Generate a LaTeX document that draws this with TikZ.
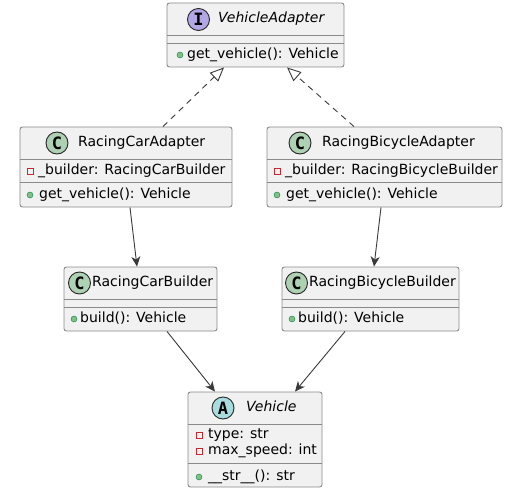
\documentclass[tikz,border=0pt]{standalone}
\usepackage{fontspec}
\setmainfont{DejaVu Sans}
\newfontfamily\spotfont{DejaVu Sans Mono}
\usetikzlibrary{arrows.meta}
\definecolor{boxfill}{HTML}{F1F1F1}
\definecolor{boxline}{HTML}{8A8A8A}
\definecolor{arrline}{HTML}{3A3A3A}
\definecolor{spotC}{HTML}{ADD1B2}
\definecolor{spotI}{HTML}{B4A7E5}
\definecolor{spotA}{HTML}{A9DCDF}
\definecolor{privred}{HTML}{C82930}
\definecolor{pubfill}{HTML}{84BE84}
\definecolor{publine}{HTML}{038048}
\begin{document}
\begin{tikzpicture}[x=1bp,y=-1bp,
    every node/.style={font=\fontsize{14bp}{16bp}\selectfont},
    cls/.style={draw=boxline,fill=boxfill,line width=0.9bp,rounded corners=2.5bp,inner sep=0},
    sep/.style={draw=boxline,line width=0.9bp},
    spot/.style={circle,draw=black!85,line width=0.9bp,minimum size=22bp,inner sep=0,
      font=\spotfont\bfseries\fontsize{17bp}{17bp}\selectfont},
    txt/.style={anchor=west,inner sep=0,text height=10bp,text depth=3bp},
    priv/.style={draw=privred,line width=0.8bp,minimum size=6bp,inner sep=0},
    pub/.style={circle,draw=publine,fill=pubfill,line width=0.4bp,minimum size=6bp,inner sep=0},
    impl/.style={draw=arrline,line width=0.9bp,dash pattern=on 6bp off 5bp,
      -{Triangle[open,length=14bp,width=12bp,fill=white]}},
    assoc/.style={draw=arrline,line width=0.9bp,-{Stealth[length=10bp,width=9bp,inset=3bp]}}]
  \useasboundingbox (0,0) rectangle (524,495);
  % class boxes
  \node[cls,minimum width=177bp,minimum height=64bp] (A0_0) at (255.5,35) {};
  \node[cls,minimum width=212bp,minimum height=80bp] (A1_0) at (126,167) {};
  \node[cls,minimum width=235bp,minimum height=80bp] (A1_1) at (384.5,167) {};
  \node[cls,minimum width=153bp,minimum height=64bp] (A2_0) at (140.5,299) {};
  \node[cls,minimum width=177bp,minimum height=64bp] (A2_1) at (370.5,299) {};
  \node[cls,minimum width=134bp,minimum height=95bp] (A3_0) at (255,439.5) {};
  % separators
  \draw[sep] (A0_0.west |- 0,35) -- (A0_0.east |- 0,35);
  \draw[sep] (A0_0.west |- 0,43) -- (A0_0.east |- 0,43);
  \draw[sep] (A1_0.west |- 0,159) -- (A1_0.east |- 0,159);
  \draw[sep] (A1_0.west |- 0,182) -- (A1_0.east |- 0,182);
  \draw[sep] (A1_1.west |- 0,159) -- (A1_1.east |- 0,159);
  \draw[sep] (A1_1.west |- 0,182) -- (A1_1.east |- 0,182);
  \draw[sep] (A2_0.west |- 0,299) -- (A2_0.east |- 0,299);
  \draw[sep] (A2_0.west |- 0,307) -- (A2_0.east |- 0,307);
  \draw[sep] (A2_1.west |- 0,299) -- (A2_1.east |- 0,299);
  \draw[sep] (A2_1.west |- 0,307) -- (A2_1.east |- 0,307);
  \draw[sep] (A3_0.west |- 0,424) -- (A3_0.east |- 0,424);
  \draw[sep] (A3_0.west |- 0,463) -- (A3_0.east |- 0,463);
  % VehicleAdapter
  \node[spot,fill=spotI] (A0_0s) at (198.5,19.5) {I};
  \node[txt] (A0_0n) at (218,19.5) {\itshape VehicleAdapter};
  \node[pub] at (180,55) {};
  \node[txt] (A0_0m) at (187,55) {get\_vehicle(): Vehicle};
  % RacingCarAdapter
  \node[spot,fill=spotC] (A1_0s) at (57,143) {C};
  \node[txt] (A1_0n) at (78,143) {RacingCarAdapter};
  \node[priv] at (30,171) {};
  \node[txt] (A1_0f) at (38,171) {\_builder: RacingCarBuilder};
  \node[pub] at (30,195) {};
  \node[txt] (A1_0m) at (39,195) {get\_vehicle(): Vehicle};
  % RacingBicycleAdapter
  \node[spot,fill=spotC] (A1_1s) at (300,143) {C};
  \node[txt] (A1_1n) at (322,143) {RacingBicycleAdapter};
  \node[priv] at (277,171) {};
  \node[txt] (A1_1f) at (285,171) {\_builder: RacingBicycleBuilder};
  \node[pub] at (277,195) {};
  \node[txt] (A1_1m) at (286,195) {get\_vehicle(): Vehicle};
  % RacingCarBuilder
  \node[spot,fill=spotC] (A2_0s) at (79.5,283) {C};
  \node[txt] (A2_0n) at (92,283) {RacingCarBuilder};
  \node[pub] at (74,319) {};
  \node[txt] (A2_0m) at (80,319) {build(): Vehicle};
  % RacingBicycleBuilder
  \node[spot,fill=spotC] (A2_1s) at (296.5,283) {C};
  \node[txt] (A2_1n) at (309,283) {RacingBicycleBuilder};
  \node[pub] at (292,319) {};
  \node[txt] (A2_1m) at (298,319) {build(): Vehicle};
  % Vehicle
  \node[spot,fill=spotA] (A3_0s) at (223,408) {A};
  \node[txt] (A3_0n) at (246,408) {\itshape Vehicle};
  \node[priv] at (199,435) {};
  \node[txt] (A3_0f1) at (208,435) {type: str};
  \node[priv] at (199,451) {};
  \node[txt] (A3_0f2) at (208,451) {max\_speed: int};
  \node[pub] at (199,477) {};
  \node[txt] (A3_0m) at (208,477) {\_\_str\_\_(): str};
  % connectors
  \path ([xshift=37bp]A1_0.north) edge [impl] ([xshift=-31.5bp]A0_0.south);
  \path ([xshift=-30.5bp]A1_1.north) edge [impl] ([xshift=31.5bp]A0_0.south);
  \path ([xshift=4bp]A1_0.south) edge [assoc] ([xshift=-3.5bp]A2_0.north);
  \path ([xshift=-3.5bp]A1_1.south) edge [assoc] ([xshift=3.5bp]A2_1.north);
  \path ([xshift=26.5bp]A2_0.south) edge [assoc] ([xshift=-40bp]A3_0.north);
  \path ([xshift=-25.5bp]A2_1.south) edge [assoc] ([xshift=40bp]A3_0.north);
\end{tikzpicture}
\end{document}
